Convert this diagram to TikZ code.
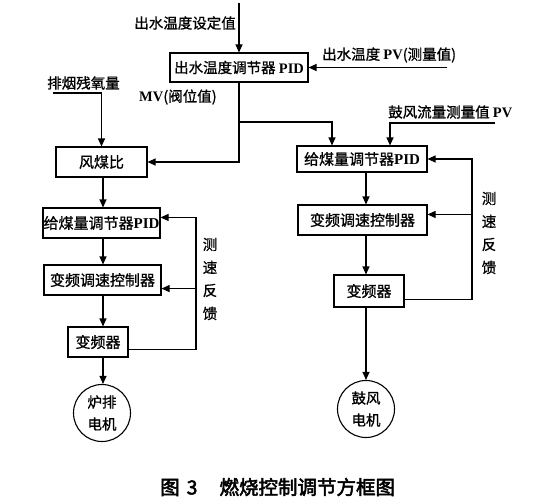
\documentclass[tikz,border=0pt]{standalone}
\usepackage{fontspec}
\setmainfont{Liberation Serif}
\newfontfamily\cjk[FakeBold=1]{Noto Sans CJK SC}
\newfontfamily\cjkb[FakeBold=2.5]{Noto Sans CJK SC}
\usetikzlibrary{arrows.meta,calc}
\begin{document}
\begin{tikzpicture}[x=1pt,y=-1pt,
  line/.style={line width=1.1pt},
  arr/.style={line width=1.1pt,-{Triangle[width=7pt,length=8pt]}},
  box/.style={draw,line width=1.1pt,inner sep=0pt,font=\cjk\fontsize{15}{17}\selectfont},
  lbl/.style={inner sep=0pt,font=\cjk\fontsize{14.5}{16}\selectfont},
  motor/.style={draw,circle,line width=1.1pt,inner sep=0pt,minimum size=57,align=center,font=\cjk\fontsize{14.5}{22}\selectfont},
  vtext/.style={inner sep=0pt,align=center,font=\cjk\fontsize{14.5}{23}\selectfont}]
\useasboundingbox (0,0) rectangle (553,503);

% top controller
\node[box,minimum width=138,minimum height=29,font=\cjk\fontsize{14.5}{16}\selectfont] (T) at (239,67.5) {出水温度调节器 {\rmfamily\bfseries PID}};
\node[lbl,anchor=east] (sp) at (236,23) {出水温度设定值};
\coordinate (top) at (239,3);
\draw[arr] (top) -- (T.north);
\node[lbl,anchor=west] (pv1) at (322,55) {出水温度 {\rmfamily\bfseries PV}(测量值)};
\coordinate (pv1s) at (447,67.5);
\draw[arr] (pv1s) -- (T.east);
\node[lbl,anchor=west] (mv) at (139,97) {{\rmfamily\bfseries MV}(阀位值)};

% left column
\node[box,minimum width=91,minimum height=30] (L0) at (101.5,162) {风煤比};
\node[box,minimum width=117,minimum height=30] (L1) at (101.5,223) {给煤量调节器{\rmfamily\bfseries PID}};
\node[box,minimum width=117,minimum height=30] (L2) at (102.5,280) {变频调速控制器};
\node[box,minimum width=60,minimum height=30] (L3) at (98,342) {变频器};
\node[motor] (CL) at (102,413) {炉排\\电机};
\node[lbl] (o2) at (83.5,83) {排烟残氧量};
\coordinate (o2s) at (53,93);
\draw[arr] (o2s) -| (L0.north);
\coordinate (lx) at (103,0);
\draw[arr] (L0.south -| lx) -- (L1.north -| lx);
\draw[arr] (L1.south -| lx) -- (L2.north -| lx);
\draw[arr] (L2.south -| lx) -- (L3.north -| lx);
\draw[arr] (L3.south -| lx) -- (CL.north -| lx);
\coordinate (fl) at (196,0);
\coordinate (l1in) at ($(L1.north east)+(0,10)$);
\coordinate (l2in) at ($(L2.south east)+(0,-7)$);
\draw[arr] ($(L3.south east)+(0,-8)$) -| (fl |- l1in) -- (l1in);
\draw[arr] (fl |- l2in) -- (l2in);
\node[vtext] (fbl) at (210,279) {测\\速\\反\\馈};

% right column
\node[box,minimum width=130,minimum height=26] (R1) at (362,159) {给煤量调节器{\rmfamily\bfseries PID}};
\node[box,minimum width=129,minimum height=30] (R2) at (362.5,220) {变频调速控制器};
\node[box,minimum width=70,minimum height=32] (R3) at (369,291) {变频器};
\node[motor] (CR) at (366,409) {鼓风\\电机};
\node[lbl,anchor=west] (pv2) at (388,112) {鼓风流量测量值 {\rmfamily\bfseries PV}};
\coordinate (pv2s) at (495,123);
\coordinate (pvx) at (390,0);
\draw[arr] (pv2s) -| (R1.north -| pvx);
\coordinate (rx) at (366,0);
\draw[arr] (R1.south -| rx) -- (R2.north -| rx);
\draw[arr] (R2.south -| rx) -- (R3.north -| rx);
\draw[arr] (R3.south -| rx) -- (CR.north -| rx);
\coordinate (fr) at (472,0);
\coordinate (r2in) at ($(R2.north east)+(0,10)$);
\draw[arr] ($(R3.south east)+(0,-8)$) -| (fr |- R1.east) -- (R1.east);
\draw[arr] (fr |- r2in) -- (r2in);
\node[vtext] (fbr) at (489,233) {测\\速\\反\\馈};

% MV distribution
\draw[arr] (T.south) |- (L0.east);
\coordinate (br) at (239,122);
\coordinate (mvx) at (332,0);
\draw[arr] (br) -| (R1.north -| mvx);

% caption
\node[inner sep=0pt,anchor=west,font=\cjkb\fontsize{19.5}{21}\selectfont] (cap) at (160,487) {图\hspace{7pt}3\hspace{22pt}燃烧控制调节方框图};
\end{tikzpicture}
\end{document}
